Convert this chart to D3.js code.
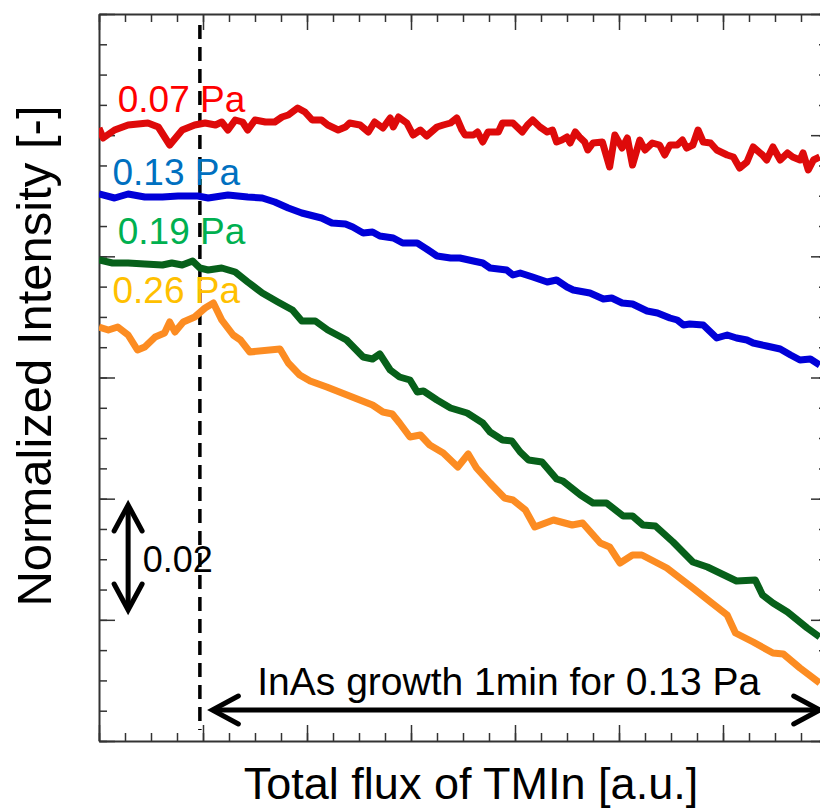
<!DOCTYPE html>
<html>
<head>
<meta charset="utf-8">
<script src="https://cdn.jsdelivr.net/npm/d3@7"></script>
<style>
  body { margin: 0; background: #fff; }
  text { font-family: "Liberation Sans", Arial, sans-serif; }
</style>
</head>
<body>
<svg id="chart" width="820" height="811"></svg>
<script>
// series: [total flux (a.u.), normalized intensity]
const red007 = [[0,0.9772],[0.04,0.9752],[0.15,0.9768],[0.28,0.9778],[0.47,0.9782],[0.57,0.9774],[0.68,0.9738],[0.80,0.9768],[0.92,0.9778],[1.02,0.9782],[1.12,0.9778],[1.18,0.9784],[1.24,0.9768],[1.31,0.9788],[1.38,0.9784],[1.43,0.9768],[1.50,0.9788],[1.60,0.9784],[1.69,0.9784],[1.76,0.9794],[1.82,0.9798],[1.91,0.9812],[1.98,0.9804],[2.05,0.9788],[2.14,0.9788],[2.20,0.9778],[2.30,0.9768],[2.37,0.9774],[2.41,0.9782],[2.51,0.9778],[2.59,0.9764],[2.65,0.9784],[2.73,0.9772],[2.80,0.9792],[2.83,0.9774],[2.88,0.9794],[2.96,0.9782],[3.02,0.9758],[3.09,0.9768],[3.15,0.9756],[3.25,0.9774],[3.31,0.9778],[3.38,0.9782],[3.44,0.9792],[3.49,0.9768],[3.52,0.9758],[3.60,0.9758],[3.64,0.9764],[3.69,0.9744],[3.74,0.9764],[3.79,0.9764],[3.84,0.9764],[3.88,0.9782],[3.98,0.9782],[4.07,0.9764],[4.12,0.9778],[4.17,0.9788],[4.24,0.9774],[4.31,0.9764],[4.36,0.9768],[4.40,0.9744],[4.45,0.9748],[4.50,0.9754],[4.53,0.9742],[4.58,0.9764],[4.62,0.9754],[4.67,0.9744],[4.70,0.9728],[4.75,0.9742],[4.84,0.9744],[4.91,0.9694],[4.96,0.9758],[5.03,0.9732],[5.08,0.9752],[5.13,0.9698],[5.20,0.9748],[5.25,0.9728],[5.32,0.9742],[5.39,0.9738],[5.44,0.9718],[5.49,0.9738],[5.56,0.9738],[5.61,0.9748],[5.65,0.9732],[5.71,0.9738],[5.76,0.9768],[5.81,0.9744],[5.88,0.9742],[5.94,0.9728],[6.04,0.9718],[6.10,0.9714],[6.16,0.9692],[6.23,0.9704],[6.29,0.9734],[6.38,0.9718],[6.42,0.9708],[6.48,0.9734],[6.55,0.9708],[6.62,0.9722],[6.67,0.9714],[6.74,0.9708],[6.77,0.9722],[6.82,0.9688],[6.87,0.9708],[6.93,0.9714]];

const blue013 = [[0,0.964],[0.15,0.9632],[0.28,0.964],[0.44,0.9634],[0.61,0.9634],[0.76,0.9636],[0.95,0.9636],[1.05,0.9632],[1.24,0.9638],[1.43,0.9634],[1.57,0.9632],[1.69,0.9624],[1.82,0.9612],[1.95,0.9602],[2.14,0.9592],[2.24,0.9582],[2.37,0.958],[2.44,0.9574],[2.54,0.9562],[2.63,0.9564],[2.70,0.9556],[2.83,0.9552],[2.92,0.9542],[3.06,0.9542],[3.15,0.953],[3.25,0.9516],[3.38,0.9512],[3.47,0.9512],[3.60,0.9506],[3.69,0.9502],[3.76,0.9492],[3.92,0.9488],[3.98,0.9478],[4.05,0.9482],[4.17,0.9474],[4.31,0.9464],[4.40,0.9468],[4.50,0.9454],[4.56,0.9448],[4.72,0.9442],[4.85,0.943],[4.93,0.9432],[5.03,0.9422],[5.13,0.942],[5.27,0.9406],[5.37,0.9402],[5.49,0.9392],[5.56,0.9388],[5.62,0.9378],[5.68,0.938],[5.81,0.9378],[5.94,0.9352],[6.04,0.9358],[6.13,0.9352],[6.23,0.9348],[6.29,0.9342],[6.42,0.9336],[6.55,0.933],[6.65,0.9318],[6.74,0.9308],[6.84,0.931],[6.93,0.9298]];

const green019 = [[0,0.9508],[0.13,0.9502],[0.28,0.9502],[0.44,0.95],[0.61,0.9498],[0.70,0.9502],[0.80,0.9498],[0.90,0.9506],[0.97,0.9492],[1.05,0.9488],[1.18,0.9492],[1.31,0.9484],[1.43,0.9464],[1.57,0.9442],[1.72,0.9424],[1.86,0.9408],[1.95,0.9386],[2.08,0.9386],[2.20,0.9368],[2.38,0.9348],[2.54,0.9314],[2.63,0.931],[2.70,0.932],[2.80,0.9288],[2.89,0.9274],[2.99,0.9268],[3.06,0.9244],[3.12,0.9246],[3.25,0.9228],[3.38,0.9212],[3.54,0.9202],[3.69,0.9182],[3.76,0.9164],[3.88,0.9148],[3.97,0.9146],[4.05,0.9124],[4.13,0.9108],[4.26,0.9104],[4.40,0.907],[4.46,0.9066],[4.63,0.9038],[4.75,0.9022],[4.88,0.9022],[5.04,0.8996],[5.13,0.8996],[5.23,0.8978],[5.35,0.8976],[5.52,0.8944],[5.71,0.8904],[5.85,0.8894],[5.97,0.8882],[6.13,0.8866],[6.31,0.8868],[6.38,0.8838],[6.48,0.8822],[6.62,0.8804],[6.81,0.8772],[6.93,0.8754]];

const orange026 = [[0,0.9374],[0.09,0.9368],[0.18,0.9374],[0.28,0.9358],[0.37,0.9328],[0.44,0.9334],[0.54,0.9354],[0.63,0.9362],[0.68,0.9384],[0.73,0.9364],[0.81,0.9384],[0.92,0.9394],[1.02,0.9412],[1.10,0.9422],[1.18,0.9388],[1.29,0.9358],[1.36,0.9348],[1.45,0.9324],[1.74,0.933],[1.82,0.9302],[1.93,0.9278],[2.03,0.9266],[2.19,0.9254],[2.41,0.9236],[2.63,0.9218],[2.73,0.9204],[2.82,0.92],[2.89,0.9182],[2.99,0.9154],[3.09,0.9158],[3.18,0.9138],[3.31,0.9122],[3.45,0.9094],[3.55,0.912],[3.63,0.9092],[3.76,0.9062],[3.90,0.9032],[3.98,0.9028],[4.10,0.9008],[4.19,0.8974],[4.37,0.8988],[4.55,0.8978],[4.65,0.8982],[4.82,0.8942],[4.91,0.8934],[5.01,0.8902],[5.13,0.8918],[5.22,0.8918],[5.46,0.8892],[5.71,0.8852],[5.88,0.8824],[6.04,0.8798],[6.12,0.8762],[6.29,0.8744],[6.48,0.8722],[6.58,0.872],[6.74,0.8692],[6.93,0.8662]];

const seriesNames = ['0.07 Pa', '0.13 Pa', '0.19 Pa', '0.26 Pa'];
const seriesData = [red007, blue013, green019, orange026];
const lineColors = ['#de0a0a', '#0000d8', '#07601a', '#fc8c22'];
const labelColors = ['#ff0000', '#0070c0', '#00b050', '#ffc000'];
// label anchor (left/baseline) in data units
const labelX = [0.18, 0.13, 0.18, 0.13];
const labelY = [0.9804, 0.9658, 0.954, 0.9422];

const xDomain = [0, 7];
const yDomain = [0.8546, 1.0];
const growthStart = 0.97;        // dashed marker
const growthArrow = [1.09, 6.93, 0.8608];
const scaleBar = [0.28, 0.9018, 0.8808];

const svg = d3.select('#chart');
const margin = { left: 99, top: 14 };
const innerW = 728, innerH = 727;

const x = d3.scaleLinear().domain(xDomain).range([0, innerW]);
const y = d3.scaleLinear().domain(yDomain).range([innerH, 0]);

const g = svg.append('g').attr('transform', `translate(${margin.left},${margin.top})`);

g.append('clipPath').attr('id', 'clip')
  .append('rect').attr('width', innerW).attr('height', innerH);

// tick positions
const xMinor = d3.range(0, 29).map(i => xDomain[0] + i * (xDomain[1] - xDomain[0]) / 28);
const xMajor = xMinor.filter((d, i) => i % 4 === 0);
const yMinor = d3.range(0, 25).map(i => yDomain[0] + i * (yDomain[1] - yDomain[0]) / 24);
const yMajor = yMinor.filter((d, i) => i % 4 === 0);

function styleAxis(sel) {
  sel.selectAll('path').attr('stroke', '#333').attr('stroke-width', 2);
  sel.selectAll('line').attr('stroke', '#333').attr('stroke-width', 1.5);
}

const axes = [
  [d3.axisBottom, `translate(0,${innerH})`, x, xMinor, xMajor],
  [d3.axisTop, null, x, xMinor, xMajor],
  [d3.axisLeft, null, y, yMinor, yMajor],
  [d3.axisRight, `translate(${innerW},0)`, y, yMinor, yMajor]
];
axes.forEach(([fn, tr, sc, minor, major]) => {
  g.append('g').attr('transform', tr)
    .call(fn(sc).tickValues(minor).tickSizeInner(-8).tickSizeOuter(0).tickFormat(''))
    .call(styleAxis);
  g.append('g').attr('transform', tr)
    .call(fn(sc).tickValues(major).tickSizeInner(-16).tickSizeOuter(0).tickFormat(''))
    .call(styleAxis)
    .call(s => s.select('path').remove());
});

// dashed marker
g.append('line')
  .attr('x1', x(growthStart)).attr('x2', x(growthStart))
  .attr('y1', y(0.9978)).attr('y2', y(0.8568))
  .attr('stroke', '#000').attr('stroke-width', 3.5)
  .attr('stroke-dasharray', '14,8');

// lines
const line = d3.line().x(d => x(d[0])).y(d => y(d[1]));
const plot = g.append('g').attr('clip-path', 'url(#clip)');
seriesData.forEach((s, i) => {
  plot.append('path')
    .datum(s)
    .attr('fill', 'none')
    .attr('stroke', lineColors[i])
    .attr('stroke-width', 7)
    .attr('stroke-linejoin', 'round')
    .attr('d', line);
});

// series labels
seriesNames.forEach((name, i) => {
  g.append('text')
    .attr('x', x(labelX[i])).attr('y', y(labelY[i]))
    .attr('fill', labelColors[i])
    .attr('font-size', 37)
    .text(name);
});

// arrows
function arrowHead(px, py, dx, dy) {
  const len = 26, half = 14;
  const bx = px - dx * len, by = py - dy * len;
  return `M${bx - dy * half},${by + dx * half}L${px},${py}L${bx + dy * half},${by - dx * half}`;
}
const arrows = g.append('g').attr('fill', 'none').attr('stroke', '#000')
  .attr('stroke-width', 5).attr('stroke-linecap', 'round').attr('stroke-linejoin', 'miter');

const ax1 = x(growthArrow[0]), ax2 = x(growthArrow[1]), ay = y(growthArrow[2]);
arrows.append('line').attr('x1', ax1 + 2).attr('x2', ax2 - 2).attr('y1', ay).attr('y2', ay);
arrows.append('path').attr('d', arrowHead(ax1, ay, -1, 0));
arrows.append('path').attr('d', arrowHead(ax2, ay, 1, 0));

const bx = x(scaleBar[0]), by1 = y(scaleBar[1]), by2 = y(scaleBar[2]);
arrows.append('line').attr('x1', bx).attr('x2', bx).attr('y1', by1 + 2).attr('y2', by2 - 2);
arrows.append('path').attr('d', arrowHead(bx, by1, 0, -1));
arrows.append('path').attr('d', arrowHead(bx, by2, 0, 1));

g.append('text')
  .attr('x', x(0.42)).attr('y', y(0.8884))
  .attr('font-size', 36).attr('fill', '#000')
  .text('0.02');

g.append('text')
  .attr('x', x(3.94)).attr('y', y(0.8638))
  .attr('text-anchor', 'middle')
  .attr('font-size', 39).attr('fill', '#000')
  .text('InAs growth 1min for 0.13 Pa');

// axis titles
svg.append('text')
  .attr('x', 471).attr('y', 799)
  .attr('text-anchor', 'middle')
  .attr('font-size', 45).attr('fill', '#000')
  .text('Total flux of TMIn [a.u.]');

svg.append('text')
  .attr('transform', 'translate(51,356) rotate(-90)')
  .attr('text-anchor', 'middle')
  .attr('font-size', 49).attr('fill', '#000')
  .text('Normalized Intensity [-]');
</script>
</body>
</html>
